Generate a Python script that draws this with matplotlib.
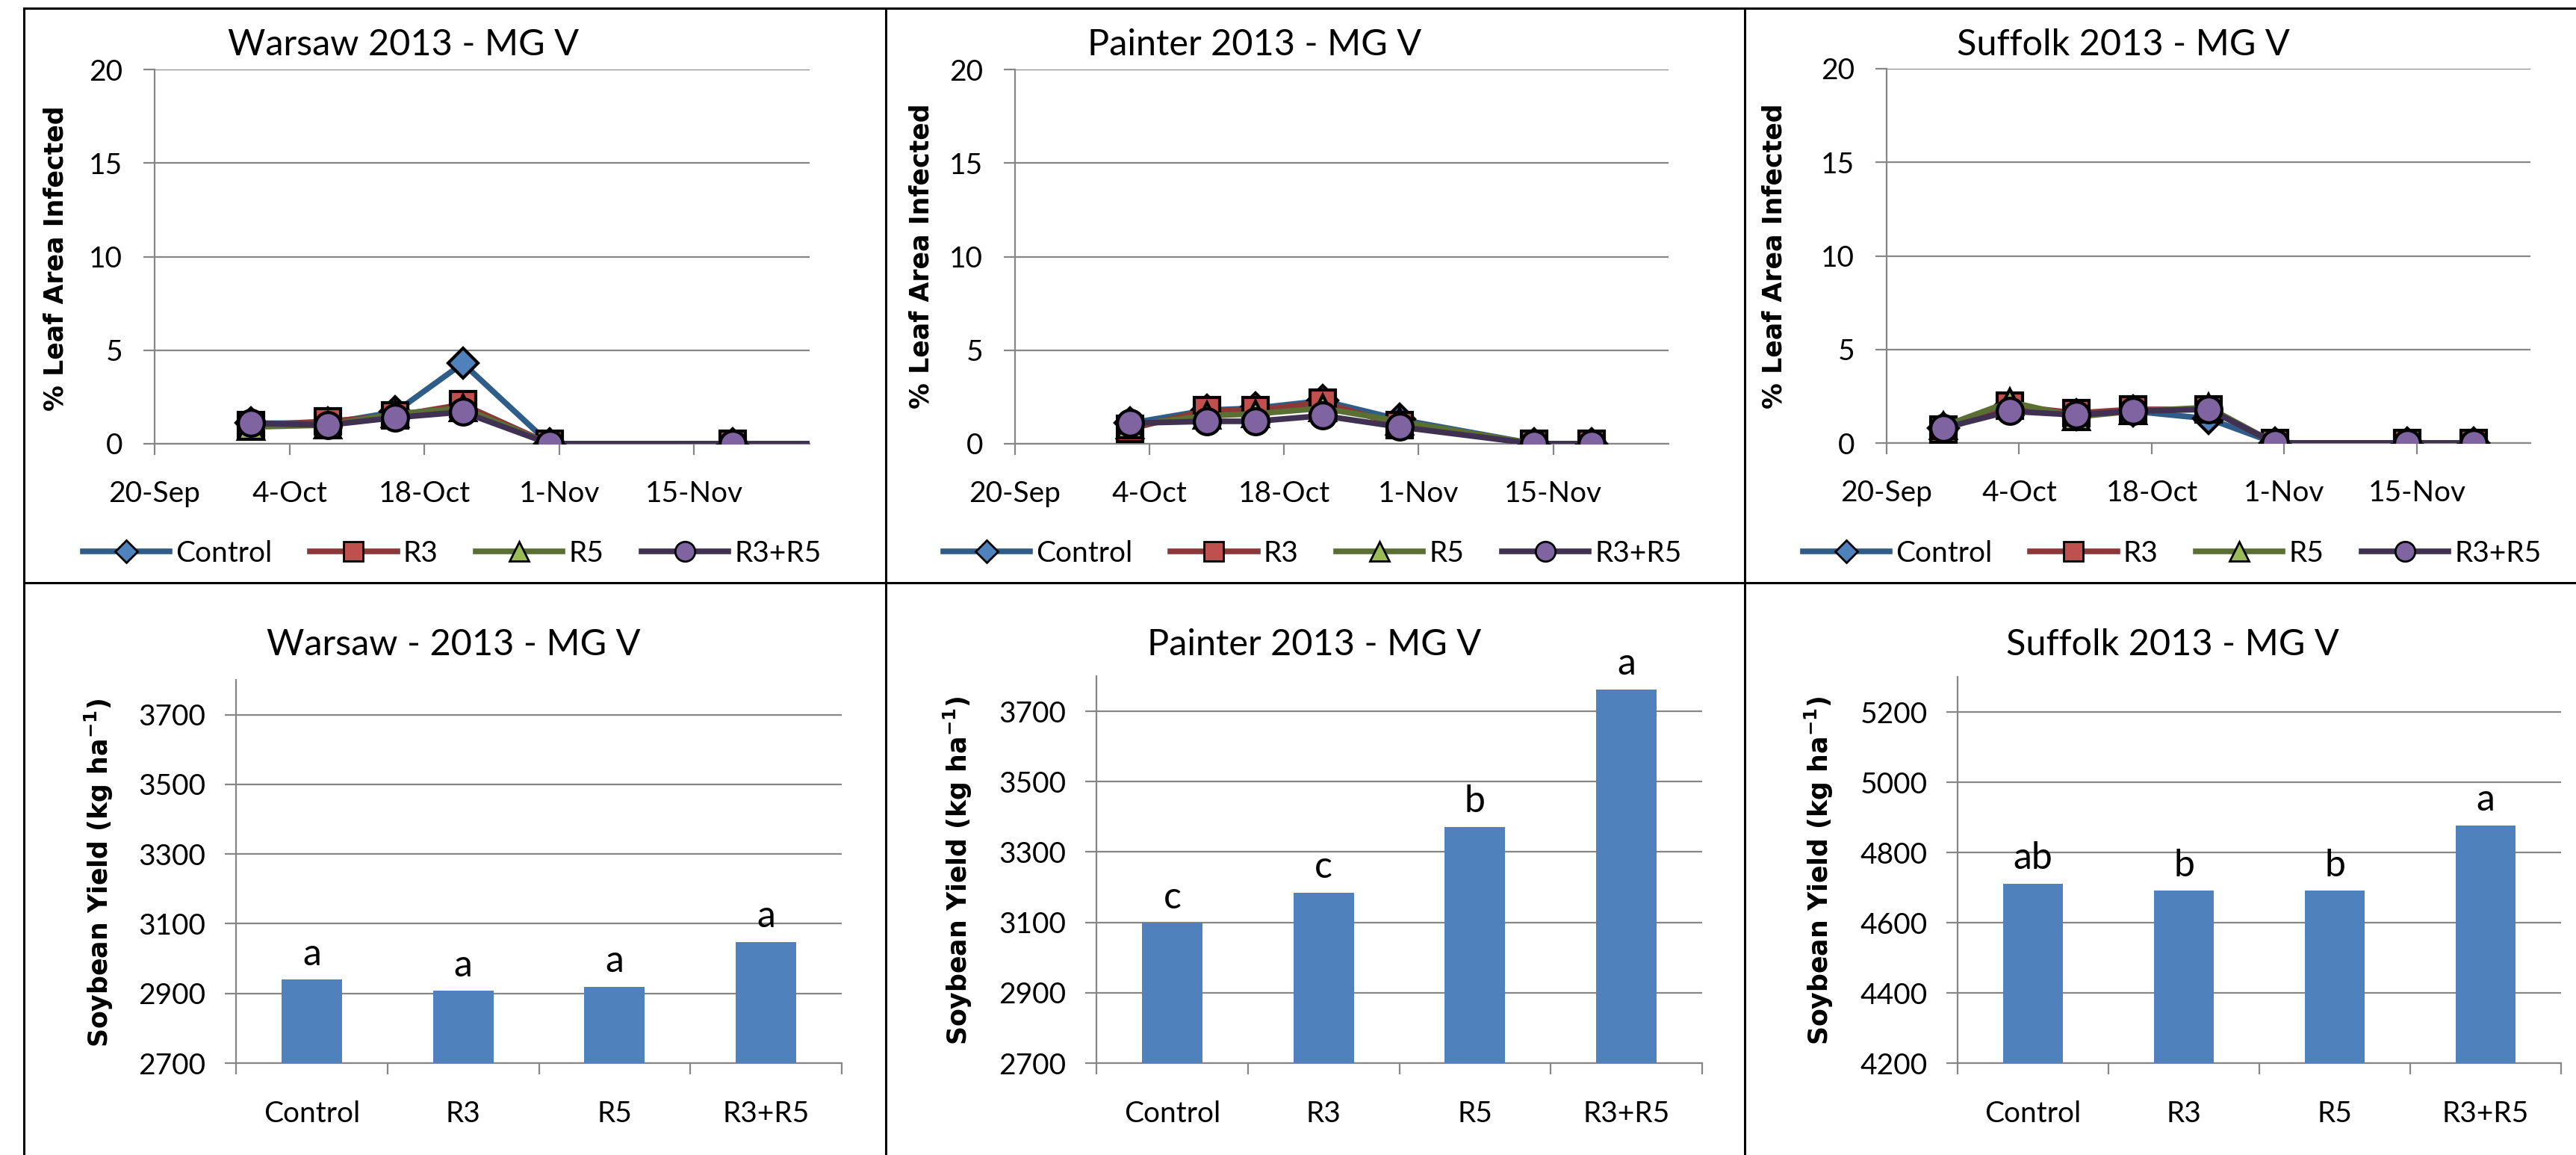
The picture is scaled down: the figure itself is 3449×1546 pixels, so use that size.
import numpy as np
import matplotlib
matplotlib.use('Agg')
import matplotlib.pyplot as plt
from matplotlib.lines import Line2D

plt.rcParams['font.family'] = ['Lato', 'DejaVu Sans']
plt.rcParams['mathtext.default'] = 'regular'

# ---- data ----
treatments = ['Control', 'R3', 'R5', 'R3+R5']

warsaw_dates = ['2013-09-30', '2013-10-08', '2013-10-15', '2013-10-22', '2013-10-31', '2013-11-19', '2013-12-01']
warsaw_control = [1.1, 1.1, 1.7, 4.3, 0.0, 0.0, 0.0]
warsaw_r3 = [1.0, 1.2, 1.5, 2.1, 0.0, 0.0, 0.0]
warsaw_r5 = [0.9, 1.0, 1.6, 1.9, 0.0, 0.0, 0.0]
warsaw_r3r5 = [1.1, 1.0, 1.4, 1.7, 0.0, 0.0, 0.0]

painter_dates = ['2013-10-02', '2013-10-10', '2013-10-15', '2013-10-22', '2013-10-30', '2013-11-13', '2013-11-19']
painter_control = [1.1, 1.8, 1.9, 2.3, 1.3, 0.0, 0.0]
painter_r3 = [0.8, 1.8, 1.8, 2.2, 1.0, 0.0, 0.0]
painter_r5 = [1.0, 1.5, 1.6, 1.9, 1.2, 0.0, 0.0]
painter_r3r5 = [1.1, 1.2, 1.2, 1.5, 0.9, 0.0, 0.0]

suffolk_dates = ['2013-09-26', '2013-10-03', '2013-10-10', '2013-10-16', '2013-10-24', '2013-10-31', '2013-11-14', '2013-11-21']
suffolk_control = [0.8, 2.0, 1.5, 1.7, 1.3, 0.0, 0.0, 0.0]
suffolk_r3 = [0.7, 2.0, 1.6, 1.8, 1.8, 0.0, 0.0, 0.0]
suffolk_r5 = [0.9, 2.2, 1.4, 1.7, 1.9, 0.0, 0.0, 0.0]
suffolk_r3r5 = [0.8, 1.7, 1.5, 1.7, 1.8, 0.0, 0.0, 0.0]

date_ticks = ['2013-09-20', '2013-10-04', '2013-10-18', '2013-11-01', '2013-11-15']
date_labels = ['20-Sep', '4-Oct', '18-Oct', '1-Nov', '15-Nov']

warsaw_yield = [2940, 2908, 2919, 3048]
warsaw_letters = ['a', 'a', 'a', 'a']
painter_yield = [3099, 3185, 3372, 3762]
painter_letters = ['c', 'c', 'b', 'a']
suffolk_yield = [4711, 4691, 4691, 4877]
suffolk_letters = ['ab', 'b', 'b', 'a']

# ---- styling ----
W, H = 3449, 1546
fig = plt.figure(figsize=(W / 100, H / 100), dpi=100)
GRID = '#868686'
line_cols = ['#2F5D8A', '#8C3836', '#5A7033', '#403152']
face_cols = ['#4F81BD', '#C0504D', '#9BBB59', '#8064A2']
markers = ['D', 's', '^', 'o']
msizes = [20, 25, 25, 25]
leg_msizes = [15, 19, 19, 19]


def px_axes(l, r, t, b):
    return fig.add_axes([l / W, 1 - b / H, (r - l) / W, (b - t) / H])


def px_text(x, y, s, **kw):
    fig.text(x / W, 1 - y / H, s, **kw)


def style_axes(ax):
    for s in ['top', 'right']:
        ax.spines[s].set_visible(False)
    for s in ['left', 'bottom']:
        ax.spines[s].set_color(GRID)
        ax.spines[s].set_linewidth(1.6)
    ax.yaxis.grid(True, color=GRID, linewidth=1.6)
    ax.set_axisbelow(True)
    ax.tick_params(axis='both', colors=GRID, labelcolor='black', labelsize=28,
                   direction='out', length=11, width=1.6)


# ---- top row: leaf area infected ----
line_sets = [
    (warsaw_dates, [warsaw_control, warsaw_r3, warsaw_r5, warsaw_r3r5], 'Warsaw 2013 - MG V',
     (207, 1084, 93, 594), (540, 60), (75, 346), 605),
    (painter_dates, [painter_control, painter_r3, painter_r5, painter_r3r5], 'Painter 2013 - MG V',
     (1359, 2234, 93, 594), (1680, 60), (1233, 343), 1757),
    (suffolk_dates, [suffolk_control, suffolk_r3, suffolk_r5, suffolk_r3r5], 'Suffolk 2013 - MG V',
     (2526, 3388, 92, 593), (2843, 60), (2375, 343), 2908),
]

for dates, series, title, box, tpos, ypos, legx in line_sets:
    ax = px_axes(*box)
    style_axes(ax)
    d = np.array(dates, dtype='datetime64[D]')
    for i, vals in enumerate(series):
        ax.plot(d, vals, color=line_cols[i], lw=5.5, marker=markers[i], ms=msizes[i],
                mfc=face_cols[i], mec='black', mew=3, zorder=3 + i)
    ax.set_xlim(np.datetime64('2013-09-20'), np.datetime64('2013-11-27'))
    ax.set_ylim(0, 20)
    ax.set_yticks([0, 5, 10, 15, 20])
    ax.set_xticks(np.array(date_ticks, dtype='datetime64[D]'))
    ax.set_xticklabels(date_labels)
    ax.tick_params(axis='x', pad=24)
    ax.tick_params(axis='y', pad=20)
    px_text(tpos[0], tpos[1], title, fontsize=35, ha='center', va='center')
    px_text(ypos[0], ypos[1], '% Leaf Area Infected', fontsize=25, fontweight='bold',
            family='DejaVu Sans', rotation=90, ha='center', va='center')
    handles = [Line2D([], [], color=line_cols[i], lw=5.5, marker=markers[i], ms=leg_msizes[i],
                      mfc=face_cols[i], mec='black', mew=2) for i in range(4)]
    fig.legend(handles, treatments, loc='center', bbox_to_anchor=(legx / W, 1 - 741 / H),
               ncol=4, frameon=False, fontsize=28, handlelength=3, handletextpad=0.2,
               columnspacing=1.3)

# ---- bottom row: yield ----
bar_sets = [
    (warsaw_yield, warsaw_letters, 'Warsaw - 2013 - MG V', (316, 1127, 910, 1423),
     (2700, 3800), [2700, 2900, 3100, 3300, 3500, 3700], (607, 863), (132, 1168)),
    (painter_yield, painter_letters, 'Painter 2013 - MG V', (1468, 2279, 905, 1423),
     (2700, 3800), [2700, 2900, 3100, 3300, 3500, 3700], (1760, 863), (1282, 1165)),
    (suffolk_yield, suffolk_letters, 'Suffolk 2013 - MG V', (2621, 3429, 906, 1423),
     (4200, 5300), [4200, 4400, 4600, 4800, 5000, 5200], (2909, 863), (2435, 1165)),
]

for vals, letters, title, box, ylim, yticks, tpos, ypos in bar_sets:
    ax = px_axes(*box)
    style_axes(ax)
    x = np.arange(len(treatments))
    ax.bar(x, vals, width=0.4, color='#4F81BD', zorder=3)
    for xi, v, lab in zip(x, vals, letters):
        ax.annotate(lab, (xi, v), xytext=(0, 14), textcoords='offset points',
                    ha='center', va='baseline', fontsize=36)
    ax.set_xlim(-0.5, len(treatments) - 0.5)
    ax.set_ylim(*ylim)
    ax.set_yticks(yticks)
    ax.set_xticks(x)
    ax.set_xticklabels(treatments)
    ax.set_xticks(np.arange(len(treatments) + 1) - 0.5, minor=True)
    ax.tick_params(axis='x', which='major', length=0, pad=36)
    ax.tick_params(axis='x', which='minor', direction='out', length=11, width=1.6, colors=GRID)
    ax.tick_params(axis='y', pad=18)
    px_text(tpos[0], tpos[1], title, fontsize=35, ha='center', va='center')
    px_text(ypos[0], ypos[1], 'Soybean Yield (kg ha$^{-1}$)', fontsize=25, fontweight='bold',
            family='DejaVu Sans', rotation=90, ha='center', va='center')

# ---- table cell borders ----
for xs, ys in [((32, 32), (11, H)), ((1186, 1186), (11, H)), ((2336, 2336), (11, H)),
               ((32, W), (11, 11)), ((32, W), (780, 780))]:
    fig.add_artist(Line2D([v / W for v in xs], [1 - v / H for v in ys], color='black', lw=2.2))

fig.savefig('out.png', dpi=100, facecolor='white')
